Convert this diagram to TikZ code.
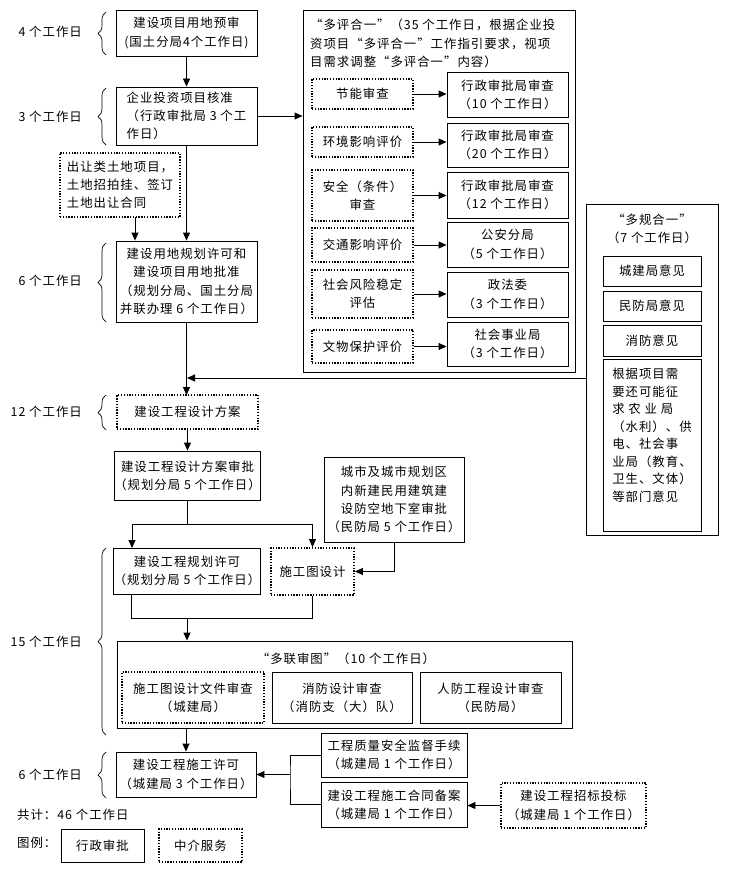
\documentclass[tikz,border=0pt]{standalone}
\usepackage{fontspec}
\setmainfont{Noto Sans CJK SC}[LetterSpace=8]
\usetikzlibrary{arrows.meta,decorations.pathreplacing}
\newcommand{\mybox}[7]{\node[#1, minimum width={(#5-#3)*1pt}, minimum height={(#6-#4)*1pt}] (#2) at ({(#3+#5)/2},{(#4+#6)/2}) {#7};}
\begin{document}
\begin{tikzpicture}[x=1pt,y=-1pt,
  every node/.style={font=\fontsize{12.4}{18.3}\selectfont, inner sep=0pt, align=center},
  box/.style={draw, line width=0.9pt, rectangle},
  dbox/.style={draw, line width=1.8pt, dash pattern=on 1.3pt off 1.5pt},
  arr/.style={line width=0.9pt, -{Triangle[length=8pt,width=7pt]}},
  ln/.style={line width=0.9pt},
  brc/.style={decorate, decoration={brace, amplitude=8pt}, line width=0.7pt},
  lbl/.style={anchor=east},
]
\fill[white] (0,0) rectangle (731,869);
\useasboundingbox (0,0) rectangle (731,869);

% left column
\mybox{box}{b1}{116}{10}{257}{56}{建设项目用地预审\\(国土分局4个工作日)}
\mybox{box,align=left}{b2}{116}{87}{257}{145}{企业投资项目核准\\（行政审批局 3 个工\\作日）}
\mybox{dbox,align=left}{d1}{60}{153}{180}{217}{出让类土地项目，\\土地招拍挂、签订\\土地出让合同}
\mybox{box}{b3}{116}{241}{257}{322}{建设用地规划许可和\\建设项目用地批准\\（规划分局、国土分局\\并联办理 6 个工作日）}

\draw[arr] (b1.south) -- (b2.north);
\draw[arr] (b2.south) -- (b2.south |- b3.north);
\coordinate (d1o) at (135,217);
\draw[arr] (d1o) -- (d1o |- b3.north);

% multi-evaluation box
\mybox{box}{P}{303}{10}{575}{372}{}
\node[anchor=north west, align=left] (pt) at (310,19) {“多评合一”（35 个工作日，根据企业投\\资项目“多评合一”工作指引要求，视项\\目需求调整“多评合一”内容）};
\mybox{dbox}{e1}{312}{79}{413}{109}{节能审查}
\mybox{box}{f1}{447}{72}{568}{117}{行政审批局审查\\（10 个工作日）}
\mybox{dbox}{e2}{312}{127}{413}{157}{环境影响评价}
\mybox{box}{f2}{447}{123}{568}{167}{行政审批局审查\\（20 个工作日）}
\mybox{dbox}{e3}{312}{170}{413}{221}{安全（条件）\\审查}
\mybox{box}{f3}{447}{172}{568}{218}{行政审批局审查\\（12 个工作日）}
\mybox{dbox}{e4}{312}{228}{413}{262}{交通影响评价}
\mybox{box}{f4}{447}{222}{568}{267}{公安分局\\（5 个工作日）}
\mybox{dbox}{e5}{312}{270}{413}{318}{社会风险稳定\\评估}
\mybox{box}{f5}{447}{272}{568}{317}{政法委\\（3 个工作日）}
\mybox{dbox}{e6}{312}{330}{413}{363}{文物保护评价}
\mybox{box}{f6}{447}{322}{568}{366}{社会事业局\\（3 个工作日）}
\foreach \i in {1,...,6} {\draw[arr] (e\i.east) -- (e\i.east -| f\i.west);}
\draw[arr] (b2.east) -- (b2.east -| P.west);

% multi-plan box
\mybox{box}{M}{586}{204}{718}{535}{}
\node (mt) at (652,229) {“多规合一”\\（7 个工作日）};
\mybox{box}{m1}{603}{256}{701}{286}{城建局意见}
\mybox{box}{m2}{603}{291}{701}{321}{民防局意见}
\mybox{box}{m3}{603}{325}{701}{356}{消防意见}
\mybox{box}{m4}{603}{359}{701}{531}{}
\node[anchor=north, align=left, font=\fontsize{12.4}{17.5}\selectfont] (m4t) at (652,368) {根据项目需\\要还可能征\\求 农 业 局\\（水利）、供\\电、社会事\\业局（教育、\\卫生、文体）\\等部门意见};

\coordinate (j1) at (187,378);
\coordinate (mj) at (586,378);
\draw[arr] (b3.south) -- (b3.south |- 0,395);
\draw[arr] (mj) -- (j1);

% design
\mybox{dbox}{d2}{117}{395}{258}{429}{建设工程设计方案}
\mybox{box}{b4}{117}{451}{258}{500}{建设工程设计方案审批\\（规划分局 5 个工作日）}
\mybox{box}{b5}{117}{548}{257}{594}{建设工程规划许可\\（规划分局 5 个工作日）}
\mybox{dbox}{d3}{271}{548}{354}{595}{施工图设计}
\mybox{box}{b6}{324}{457}{464}{542}{城市及城市规划区\\内新建民用建筑建\\设防空地下室审批\\（民防局 5 个工作日）}

\draw[arr] (d2.south) -- (d2.south |- b4.north);
\coordinate (s1) at (187.5,524);
\coordinate (b5in) at (132,548);
\draw[ln] (b4.south) -- (s1);
\draw[arr] (s1) -| (b5in);
\draw[arr] (s1) -| (d3.north);
\draw[arr] (b6.south) |- (d3.east);

\coordinate (b5o) at (131,594);
\draw[ln] (b5o) -- ++(0,24) -| (d3.south);
\coordinate (s2) at (187,618);

% joint drawing review
\mybox{box}{D}{117}{641}{572}{728}{}
\node (dt) at (346,659) {“多联审图”（10 个工作日）};
\mybox{dbox}{i1}{122}{672}{264}{723}{施工图设计文件审查\\（城建局）}
\mybox{box}{i2}{272}{672}{412}{723}{消防设计审查\\（消防支（大）队）}
\mybox{box}{i3}{420}{672}{561}{723}{人防工程设计审查\\（民防局）}
\draw[arr] (s2) -- (s2 |- D.north);

% construction permit
\mybox{box}{b7}{116}{752}{256}{797}{建设工程施工许可\\（城建局 3 个工作日）}
\mybox{box}{b8}{321}{733}{467}{777}{工程质量安全监督手续\\（城建局 1 个工作日）}
\mybox{box}{b9}{321}{782}{467}{827}{建设工程施工合同备案\\（城建局 1 个工作日）}
\mybox{dbox}{d4}{501}{783}{646}{828}{建设工程招标投标\\（城建局 1 个工作日）}
\draw[arr] (b7.north |- D.south) -- (b7.north);
\coordinate (j2) at (290,774.5);
\draw[ln] (b8.west) -| (j2) |- (b9.west);
\draw[arr] (j2) -- (b7.east);
\draw[arr] (d4.west) -- (d4.west -| b9.east);

% left labels and braces
\node[lbl] (l1) at (82,32) {4 个工作日};
\node[lbl] (l2) at (82,117) {3 个工作日};
\node[lbl] (l3) at (82,281) {6 个工作日};
\node[lbl] (l4) at (82,412) {12 个工作日};
\node[lbl] (l5) at (82,642) {15 个工作日};
\node[lbl] (l6) at (82,775) {6 个工作日};
\draw[brc] (106,55) -- (106,12);
\draw[brc] (106,145) -- (106,88);
\draw[brc] (106,322) -- (106,243);
\draw[brc] (106,430) -- (106,395);
\draw[brc] (106,735) -- (106,548);
\draw[brc] (106,798) -- (106,752);

% totals and legend
\node[anchor=west] (tot) at (17,815) {共计：46 个工作日};
\node[anchor=west] (lg) at (17,843) {图例：};
\mybox{box}{L1}{61}{829}{144}{862}{行政审批}
\mybox{dbox}{L2}{159}{829}{242}{862}{中介服务}
\end{tikzpicture}
\end{document}
